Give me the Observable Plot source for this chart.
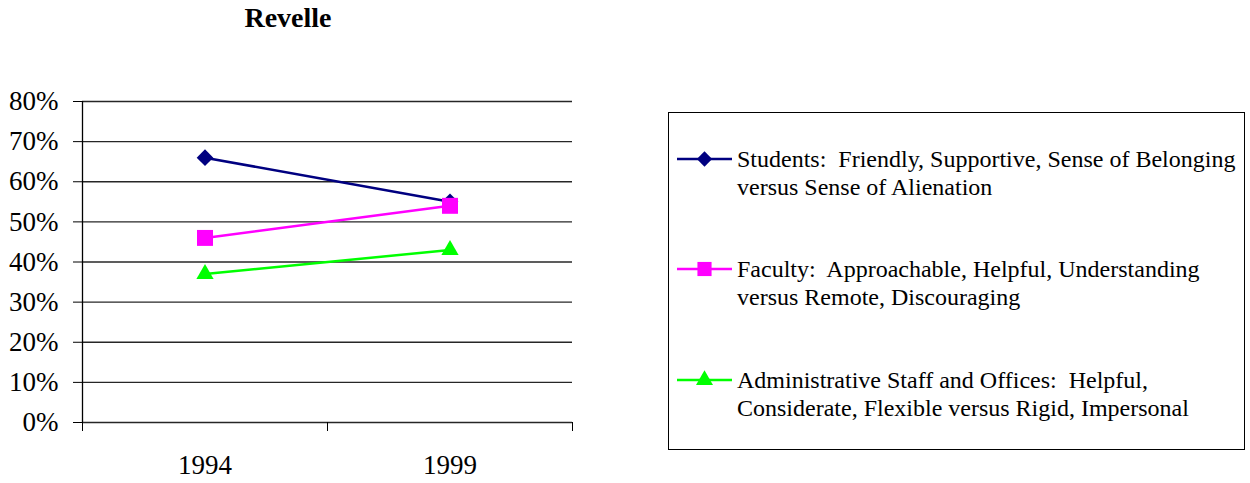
<!DOCTYPE html>
<html>
<head>
<meta charset="utf-8">
<script src="https://cdn.jsdelivr.net/npm/d3@7"></script>
<script src="https://cdn.jsdelivr.net/npm/@observablehq/plot@0.6"></script>
<style>
  html, body { margin: 0; padding: 0; background: #fff; }
  #wrap { position: relative; width: 1250px; height: 483px; font-family: "Liberation Serif", "Times New Roman", serif; }
  #title { position: absolute; left: 188px; width: 200px; top: 2px; text-align: center; font-weight: bold; font-size: 28px; }
  #chart { position: absolute; left: 0; top: 0; }
  #legend { position: absolute; left: 668px; top: 112px; width: 577px; height: 338px; border: 1px solid #000; box-sizing: border-box; }
  .item { position: absolute; left: 0; }
  .item svg { position: absolute; left: 7px; top: 0; }
  .item .txt { position: absolute; left: 68px; top: 0; font-family: "Liberation Serif", "Times New Roman", serif; font-size: 24px; line-height: 28px; white-space: pre; color: #000; }
</style>
</head>
<body>
<div id="wrap">
  <div id="chart"></div>
  <div id="title">Revelle</div>
  <div id="legend"></div>
</div>
<script>
const years = ["1994", "1999"];
const seriesNames = [
  "Students:  Friendly, Supportive, Sense of Belonging\nversus Sense of Alienation",
  "Faculty:  Approachable, Helpful, Understanding\nversus Remote, Discouraging",
  "Administrative Staff and Offices:  Helpful,\nConsiderate, Flexible versus Rigid, Impersonal"
];
const students = [0.66, 0.55];
const faculty = [0.46, 0.54];
const admin = [0.37, 0.43];
const colors = ["#000080", "#FF00FF", "#00FF00"];
const symbols = ["diamond2", "square", "triangle"];
const yTicks = [0, 0.1, 0.2, 0.3, 0.4, 0.5, 0.6, 0.7, 0.8];

const allValues = [students, faculty, admin];
const data = [];
allValues.forEach((vals, s) => {
  vals.forEach((v, i) => data.push({ series: s, xi: i + 0.5, year: years[i], value: v }));
});

const plot = Plot.plot({
  width: 600,
  height: 483,
  marginLeft: 82,
  marginRight: 28,
  marginTop: 101,
  marginBottom: 61,
  style: { fontFamily: "Liberation Serif, Times New Roman, serif", fontSize: "27px", color: "#000", background: "transparent" },
  x: { type: "linear", domain: [0, years.length], axis: null },
  y: { domain: [0, 0.8], axis: null },
  marks: [
    Plot.ruleY(yTicks, { stroke: "#000", strokeWidth: 1.3, strokeOpacity: 0.85 }),
    Plot.axisY({ ticks: yTicks, tickFormat: d3.format(".0%"), tickSize: 9, tickPadding: 15, fontSize: 27, stroke: "#000", label: null }),
    Plot.ruleX([0], { stroke: "#000", strokeWidth: 1.3 }),
    Plot.axisX({ ticks: d3.range(0, years.length + 1), tickFormat: () => "", tickSize: 9, stroke: "#000", label: null }),
    Plot.axisX({ ticks: years.map((_, i) => i + 0.5), tickFormat: d => years[Math.floor(d)], tickSize: 0, tickPadding: 32, fontSize: 27, label: null }),
    Plot.line(data, { x: "xi", y: "value", z: "series", stroke: d => colors[d.series], strokeWidth: 2.5 }),
    Plot.dot(data.filter(d => d.series === 0), { x: "xi", y: "value", symbol: () => symbols[0], fill: colors[0], r: 7.5 }),
    Plot.dot(data.filter(d => d.series === 1), { x: "xi", y: "value", symbol: () => symbols[1], fill: colors[1], r: 9 }),
    Plot.dot(data.filter(d => d.series === 2), { x: "xi", y: "value", symbol: () => symbols[2], fill: colors[2], r: 6.4 })
  ]
});
document.getElementById("chart").appendChild(plot);

// Legend
const legend = document.getElementById("legend");
const itemTops = [32, 142, 253];
seriesNames.forEach((name, s) => {
  const item = document.createElement("div");
  item.className = "item";
  item.style.top = itemTops[s] + "px";
  const sym = d3.symbol().type(s === 0 ? d3.symbolDiamond2 : s === 1 ? d3.symbolSquare : d3.symbolTriangle).size(s === 0 ? 150 : s === 1 ? 200 : 125)();
  item.innerHTML = `<svg width="58" height="28"><line x1="1" x2="56" y1="14" y2="14" stroke="${colors[s]}" stroke-width="2.5"/><path d="${sym}" transform="translate(28.5,14)" fill="${colors[s]}"/></svg><div class="txt">${name}</div>`;
  legend.appendChild(item);
});
</script>
</body>
</html>
